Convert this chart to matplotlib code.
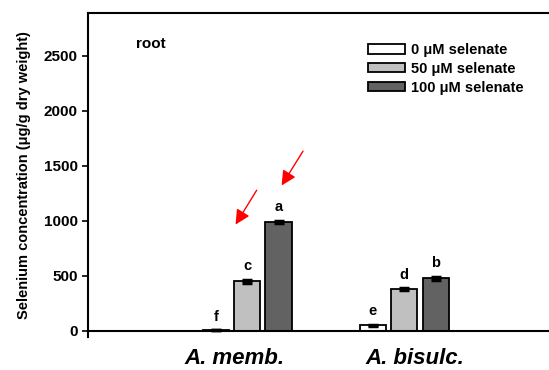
import matplotlib.pyplot as plt
import numpy as np

plt.rcParams['font.family'] = ['Liberation Sans', 'DejaVu Sans']
plt.rcParams['font.weight'] = 'bold'

species = ['A. memb.', 'A. bisulc.']
treatments = ['0 \u03bcM selenate', '50 \u03bcM selenate', '100 \u03bcM selenate']
colors = ['#ffffff', '#c0c0c0', '#626262']

# values per treatment, one entry per species
values = [[5, 52], [450, 380], [990, 480]]
errors = [[0, 5], [15, 6], [10, 14]]
letters = [['f', 'e'], ['c', 'd'], ['a', 'b']]

fig = plt.figure(figsize=(5.49, 3.70), dpi=100)
ax = fig.add_axes([0.1603, 0.0895, 0.845, 0.8754])

x = np.arange(len(species))
step = 0.2
width = 0.167
for i, (lab, col) in enumerate(zip(treatments, colors)):
    pos = x + (i - 1) * step
    ax.bar(pos, values[i], width, color=col, edgecolor='black', linewidth=1.3,
           label=lab, zorder=2)
    ax.errorbar(pos, values[i], yerr=errors[i], fmt='none', ecolor='black',
                elinewidth=1.5, capsize=3.5, capthick=2.5, zorder=3)
    for p, v, e, t in zip(pos, values[i], errors[i], letters[i]):
        ax.text(p, v + e + 60, t, ha='center', va='bottom', fontsize=10.5,
                fontweight='bold')

ax.axhline(0, color='black', linewidth=1.5, zorder=4)
ax.set_xlim(-1.013, 1.94)
ax.set_ylim(-55, 2890)
ax.set_yticks([0, 500, 1000, 1500, 2000, 2500])
ax.tick_params(axis='y', direction='out', length=4, width=1.2, labelsize=11)
for lbl in ax.get_yticklabels():
    lbl.set_fontweight('bold')
ax.set_xticks([])
ax.spines['right'].set_visible(False)
ax.spines['bottom'].set_visible(False)
ax.spines['left'].set_linewidth(1.5)
ax.spines['top'].set_linewidth(1.5)

ax.set_ylabel('Selenium concentration (\u03bcg/g dry weight)', fontsize=10.5,
              fontweight='bold', labelpad=9)

# species names under the groups
for xi, name, dx in zip(x, species, [-0.08, 0.065]):
    ax.text(xi + dx, -0.066, name, transform=ax.get_xaxis_transform(),
            ha='center', va='center', fontsize=16, fontweight='bold',
            style='italic')

ax.text(0.103, 0.905, 'root', transform=ax.transAxes, fontsize=11,
        fontweight='bold', va='center')

ax.legend(loc='upper left', bbox_to_anchor=(0.59, 0.925), frameon=False,
          fontsize=10.5, handlelength=2.6, handleheight=0.6, handletextpad=0.4,
          labelspacing=0.33, borderaxespad=0)

# red arrows pointing at A. memb. treated bars
arrow = dict(arrowstyle='-|>', color='red', lw=1.0, mutation_scale=22)
ax.annotate('', xy=(-0.083, 945), xytext=(0.07, 1300), arrowprops=arrow)
ax.annotate('', xy=(0.21, 1300), xytext=(0.365, 1655), arrowprops=arrow)

fig.savefig('out.png', dpi=100)
